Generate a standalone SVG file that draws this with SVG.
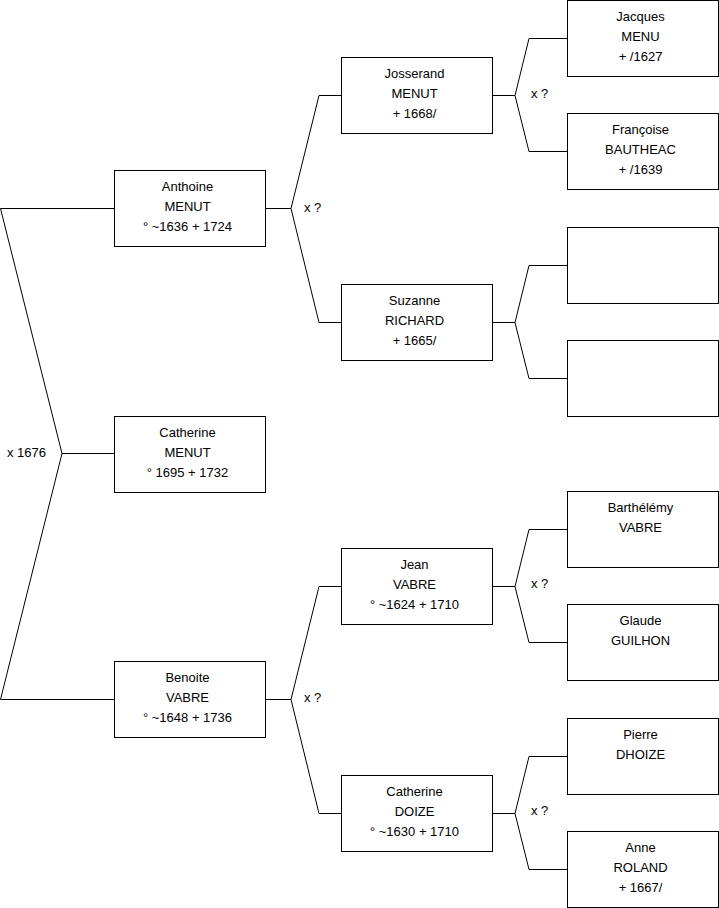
<svg xmlns="http://www.w3.org/2000/svg" width="719" height="908" viewBox="0 0 719 908">
<style>
.box{fill:#fff;stroke:#000;stroke-width:1}
.ln{fill:none;stroke:#000;stroke-width:1}
text{font-family:"Liberation Sans",Arial,sans-serif;font-size:13px;fill:#000}
.c{text-anchor:middle}
</style>
<rect width="719" height="908" fill="#fff"/>
<g id="connectors">
<path class="ln" d="M114,208.5H0.5L62,453.5L0.5,699.5H114M62,453.5H114"/>
<path class="ln" d="M265,208.5H291L319,95.5H341M291,208.5L319,322.5H341"/>
<path class="ln" d="M265,699.5H291L319,586.5H341M291,699.5L319,813.5H341"/>
<path class="ln" d="M492,95.5H515L529,38.5H567M515,95.5L529,151.5H567"/>
<path class="ln" d="M492,322.5H515L529,265.5H567M515,322.5L529,378.5H567"/>
<path class="ln" d="M492,586.5H515L529,529.5H567M515,586.5L529,642.5H567"/>
<path class="ln" d="M492,813.5H515L529,756.5H567M515,813.5L529,869.5H567"/>
<text x="7" y="457">x 1676</text>
<text x="304" y="212">x ?</text>
<text x="304" y="702">x ?</text>
<text x="531" y="98">x ?</text>
<text x="531" y="588">x ?</text>
<text x="531" y="815">x ?</text>
</g>
<g id="anthoine"><rect class="box" x="114.5" y="170.5" width="151" height="76"/><text class="c" x="187.5" y="191">Anthoine</text><text class="c" x="187.5" y="211">MENUT</text><text class="c" x="187.5" y="231">° ~1636 + 1724</text></g>
<g id="catherine_menut"><rect class="box" x="114.5" y="416.5" width="151" height="76"/><text class="c" x="187.5" y="437">Catherine</text><text class="c" x="187.5" y="457">MENUT</text><text class="c" x="187.5" y="477">° 1695 + 1732</text></g>
<g id="benoite"><rect class="box" x="114.5" y="661.5" width="151" height="76"/><text class="c" x="187.5" y="682">Benoite</text><text class="c" x="187.5" y="702">VABRE</text><text class="c" x="187.5" y="722">° ~1648 + 1736</text></g>
<g id="josserand"><rect class="box" x="341.5" y="57.5" width="151" height="76"/><text class="c" x="414.5" y="78">Josserand</text><text class="c" x="414.5" y="98">MENUT</text><text class="c" x="414.5" y="118">+ 1668/</text></g>
<g id="suzanne"><rect class="box" x="341.5" y="284.5" width="151" height="76"/><text class="c" x="414.5" y="305">Suzanne</text><text class="c" x="414.5" y="325">RICHARD</text><text class="c" x="414.5" y="345">+ 1665/</text></g>
<g id="jean"><rect class="box" x="341.5" y="548.5" width="151" height="76"/><text class="c" x="414.5" y="569">Jean</text><text class="c" x="414.5" y="589">VABRE</text><text class="c" x="414.5" y="609">° ~1624 + 1710</text></g>
<g id="catherine_doize"><rect class="box" x="341.5" y="775.5" width="151" height="76"/><text class="c" x="414.5" y="796">Catherine</text><text class="c" x="414.5" y="816">DOIZE</text><text class="c" x="414.5" y="836">° ~1630 + 1710</text></g>
<g id="jacques"><rect class="box" x="567.5" y="0.5" width="151" height="76"/><text class="c" x="640.5" y="21">Jacques</text><text class="c" x="640.5" y="41">MENU</text><text class="c" x="640.5" y="61">+ /1627</text></g>
<g id="francoise"><rect class="box" x="567.5" y="113.5" width="151" height="76"/><text class="c" x="640.5" y="134">Françoise</text><text class="c" x="640.5" y="154">BAUTHEAC</text><text class="c" x="640.5" y="174">+ /1639</text></g>
<g id="unknown1"><rect class="box" x="567.5" y="227.5" width="151" height="76"/></g>
<g id="unknown2"><rect class="box" x="567.5" y="340.5" width="151" height="76"/></g>
<g id="barthelemy"><rect class="box" x="567.5" y="491.5" width="151" height="76"/><text class="c" x="640.5" y="512">Barthélémy</text><text class="c" x="640.5" y="532">VABRE</text></g>
<g id="glaude"><rect class="box" x="567.5" y="604.5" width="151" height="76"/><text class="c" x="640.5" y="625">Glaude</text><text class="c" x="640.5" y="645">GUILHON</text></g>
<g id="pierre"><rect class="box" x="567.5" y="718.5" width="151" height="76"/><text class="c" x="640.5" y="739">Pierre</text><text class="c" x="640.5" y="759">DHOIZE</text></g>
<g id="anne"><rect class="box" x="567.5" y="831.5" width="151" height="76"/><text class="c" x="640.5" y="852">Anne</text><text class="c" x="640.5" y="872">ROLAND</text><text class="c" x="640.5" y="892">+ 1667/</text></g>
</svg>
